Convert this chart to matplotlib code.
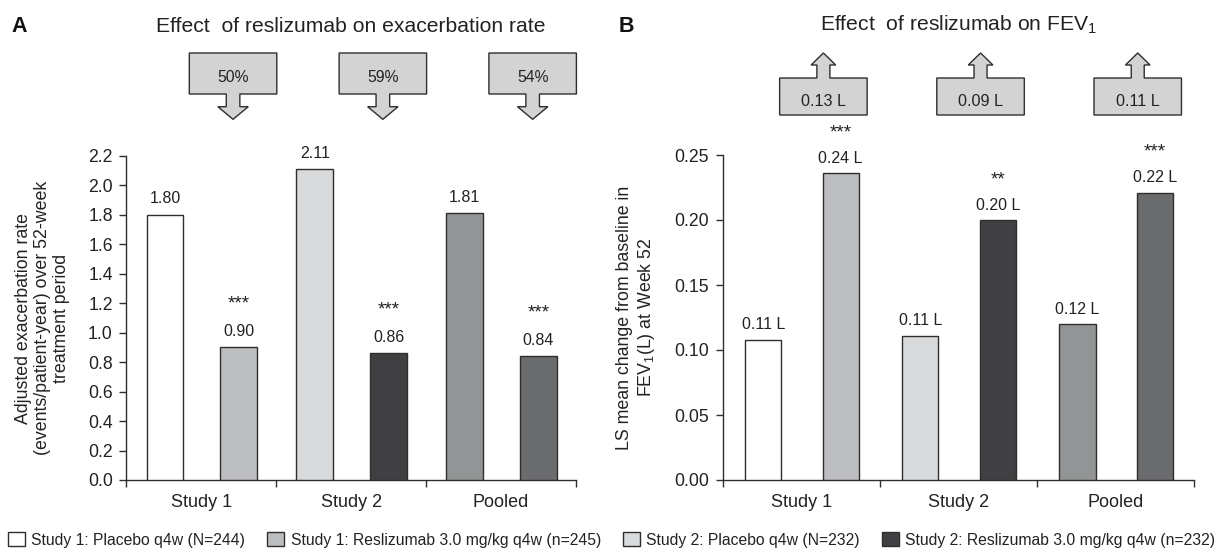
import matplotlib
matplotlib.use('Agg')
import matplotlib.pyplot as plt
from matplotlib.patches import Polygon, Patch
from matplotlib.transforms import IdentityTransform

plt.rcParams['font.family'] = ['Liberation Sans', 'DejaVu Sans']
plt.rcParams['mathtext.fontset'] = 'custom'
plt.rcParams['mathtext.rm'] = 'Liberation Sans'
plt.rcParams['mathtext.it'] = 'Liberation Sans:italic'
plt.rcParams['mathtext.bf'] = 'Liberation Sans:bold'

# ---------------- data ----------------
groups = ['Study 1', 'Study 2', 'Pooled']
exac_rate = [1.80, 0.90, 2.11, 0.86, 1.81, 0.84]
exac_labels = ['1.80', '0.90', '2.11', '0.86', '1.81', '0.84']
exac_sig = ['', '***', '', '***', '', '***']
exac_reduction = ['50%', '59%', '54%']
exac_yticks = [0.0, 0.2, 0.4, 0.6, 0.8, 1.0, 1.2, 1.4, 1.6, 1.8, 2.0, 2.2]

fev1_change = [0.108, 0.236, 0.111, 0.200, 0.120, 0.221]
fev1_labels = ['0.11 L', '0.24 L', '0.11 L', '0.20 L', '0.12 L', '0.22 L']
fev1_sig = ['', '***', '', '**', '', '***']
fev1_diff = ['0.13 L', '0.09 L', '0.11 L']
fev1_yticks = [0.00, 0.05, 0.10, 0.15, 0.20, 0.25]

bar_colors = ['#ffffff', '#bcbdbf', '#d9dadc', '#404042', '#939495', '#6b6c6e']
legend_labels = ['Study 1: Placebo q4w (N=244)',
                 'Study 1: Reslizumab 3.0 mg/kg q4w (n=245)',
                 'Study 2: Placebo q4w (N=232)',
                 'Study 2: Reslizumab 3.0 mg/kg q4w (n=232)']

W, H = 1221, 548
fig = plt.figure(figsize=(W / 100, H / 100), dpi=100)
EDGE = '#2e2e2e'


def add_axes_px(left, right, top, bottom):
    return fig.add_axes([left / W, 1 - bottom / H, (right - left) / W, (bottom - top) / H])


axA = add_axes_px(126.4, 575.8, 156, 480)
axB = add_axes_px(722.8, 1194.3, 155, 480)

PX = 0.72  # points per pixel


def style_axis(ax, ymax, yticks, fmt):
    ax.set_xlim(0, 3)
    ax.set_ylim(0, ymax)
    for s in ['top', 'right']:
        ax.spines[s].set_visible(False)
    for s in ['left', 'bottom']:
        ax.spines[s].set_color(EDGE)
        ax.spines[s].set_linewidth(1.0)
    ax.set_yticks(yticks)
    ax.set_yticklabels([fmt % t for t in yticks])
    ax.set_xticks([0, 1, 2, 3])
    ax.set_xticklabels(['', '', '', ''])
    ax.set_xticks([0.5, 1.5, 2.5], minor=True)
    ax.set_xticklabels(groups, minor=True)
    ax.tick_params(axis='y', direction='out', length=6.7 * PX, width=1.0,
                   color=EDGE, labelsize=12.7, pad=5, labelcolor='#222222')
    ax.tick_params(axis='x', which='major', direction='out', length=6.7 * PX,
                   width=1.0, color=EDGE)
    ax.tick_params(axis='x', which='minor', length=0, labelsize=13,
                   pad=10, labelcolor='#222222')


def draw_bars(ax, values, labels, sig, width, lab_off, star_off):
    xs = []
    for g in range(3):
        xs += [g + 0.257, g + 0.75]
    ax.bar(xs, values, width=width, color=bar_colors,
           edgecolor=EDGE, linewidth=1.0, zorder=3)
    for x, v, lab, s in zip(xs, values, labels, sig):
        ax.annotate(lab, (x, v), xytext=(0, lab_off * PX), textcoords='offset points',
                    ha='center', va='center', fontsize=11.5, color='#222222')
        if s:
            ax.annotate(s, (x, v), xytext=(0, star_off * PX), textcoords='offset points',
                        ha='center', va='baseline', fontsize=13.5, color='#222222')


style_axis(axA, 2.2, exac_yticks, '%.1f')
style_axis(axB, 0.25, fev1_yticks, '%.2f')
draw_bars(axA, exac_rate, exac_labels, exac_sig, 0.244, 16, 38.5)
draw_bars(axB, fev1_change, fev1_labels, fev1_sig, 0.23, 15, 36)

axA.text(-0.186, 0.5, 'Adjusted exacerbation rate\n(events/patient-year) over 52-week\ntreatment period',
         transform=axA.transAxes, rotation=90, ha='center', va='center',
         multialignment='center', fontsize=12.8, color='#222222', linespacing=1.15)
axB.text(-0.182, 0.5, 'LS mean change from baseline in\nFEV$_1$(L) at Week 52',
         transform=axB.transAxes, rotation=90, ha='center', va='center',
         multialignment='center', fontsize=12.8, color='#222222', linespacing=1.2)

# titles and panel letters
fig.text(351 / W, 1 - 32 / H, 'Effect  of reslizumab on exacerbation rate', ha='center',
         va='baseline', fontsize=15.2, color='#222222')
fig.text(958.5 / W, 1 - 31 / H, 'Effect  of reslizumab on FEV$_1$', ha='center',
         va='baseline', fontsize=15.2, color='#222222')
fig.text(11 / W, 1 - 32 / H, 'A', ha='left', va='baseline', fontsize=15.5,
         fontweight='bold', color='#111111')
fig.text(619 / W, 1 - 32 / H, 'B', ha='left', va='baseline', fontsize=15.5,
         fontweight='bold', color='#111111')

# arrow boxes
BOXFILL = '#d3d3d3'


def data_x_to_px(ax, x):
    return ax.transData.transform((x, 0))[0]


def add_poly(pts):
    verts = [(x, H - y) for x, y in pts]
    fig.add_artist(Polygon(verts, closed=True, facecolor=BOXFILL, edgecolor=EDGE,
                           linewidth=1.0, transform=IdentityTransform()))


for g, txt in enumerate(exac_reduction):
    cx = data_x_to_px(axA, g + 0.712)
    L, R, T, B = cx - 43.75, cx + 43.75, 53, 94
    add_poly([(L, T), (R, T), (R, B), (cx + 6.8, B), (cx + 6.8, 106.7), (cx + 15.2, 106.7),
              (cx, 119.3), (cx - 15.2, 106.7), (cx - 6.8, 106.7), (cx - 6.8, B), (L, B)])
    fig.text(cx / W, 1 - 81.7 / H, txt, ha='center', va='baseline', fontsize=11.3,
             color='#222222')

for g, txt in enumerate(fev1_diff):
    cx = data_x_to_px(axB, g + 0.64)
    L, R, T, B = cx - 43.75, cx + 43.75, 78, 115
    add_poly([(L, B), (R, B), (R, T), (cx + 6.5, T), (cx + 6.5, 65), (cx + 12.3, 65),
              (cx, 53), (cx - 12.3, 65), (cx - 6.5, 65), (cx - 6.5, T), (L, T)])
    fig.text(cx / W, 1 - 106 / H, txt, ha='center', va='baseline', fontsize=11.6,
             color='#222222')

# legend
handles = [Patch(facecolor=c, edgecolor=EDGE, linewidth=1.0) for c in bar_colors[:4]]
fig.legend(handles, legend_labels, ncol=4, loc='center left',
           bbox_to_anchor=(8 / W, 8 / H), frameon=False, fontsize=11.3,
           handlelength=1.06, handleheight=1.0, handletextpad=0.42,
           columnspacing=1.42, borderpad=0, borderaxespad=0, labelcolor='#222222')

fig.savefig('out.png', dpi=100)
